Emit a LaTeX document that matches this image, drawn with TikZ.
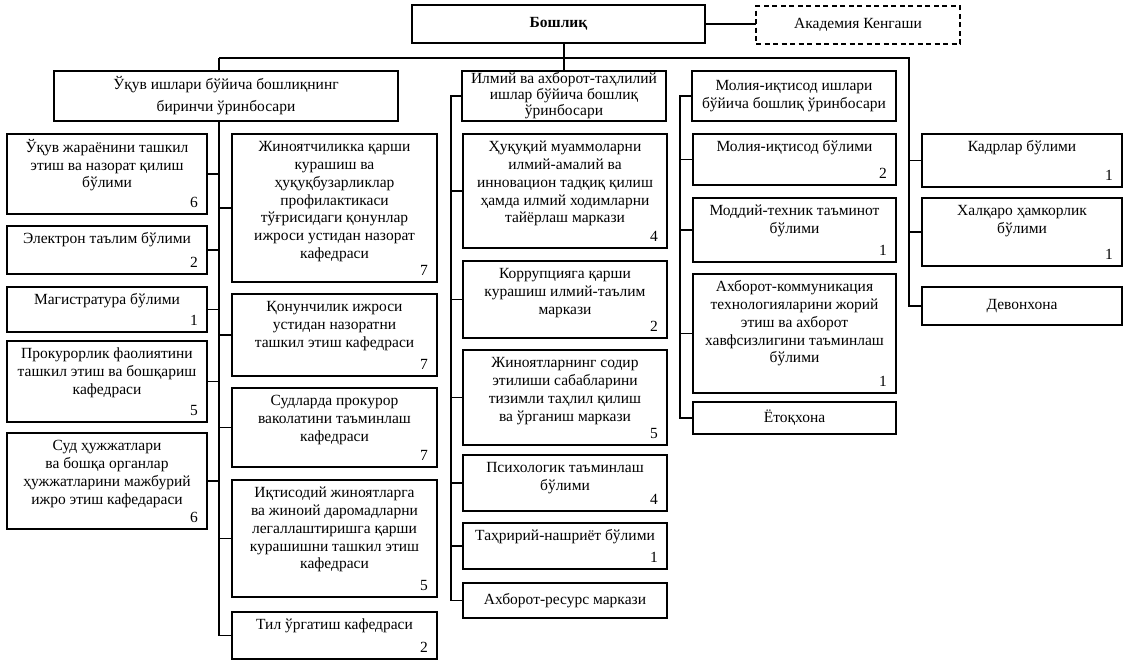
\documentclass[tikz,border=0pt]{standalone}
\usepackage{fontspec}
\setmainfont{Liberation Serif}
\tikzset{
  ubx/.style={draw, line width=1.3pt, inner sep=0pt, outer sep=0pt, align=center},
  utx/.style={inner sep=0pt, align=center},
  unm/.style={inner sep=0pt},
  conn/.style={line width=1.4pt},
}
% name, x1, y1, x2, y2, text, number
\newcommand\ubox[7]{%
  \node[ubx, minimum width={#4-#2}, minimum height={#5-#3}] (#1) at ({(#2+#4)/2},{(#3+#5)/2}) {};
  \node[utx, anchor=north] (#1-t) at ([yshift=-5pt]#1.north) {\strut #6};
  \node[unm, anchor=south east] (#1-n) at ([xshift=-9pt,yshift=6pt]#1.south east) {#7};
}
% [style], name, x1, y1, x2, y2, text
\newcommand\cboxt[7][]{%
  \node[ubx, minimum width={#5-#3}, minimum height={#6-#4}, #1] (#2) at ({(#3+#5)/2},{(#4+#6)/2}) {#7};
}
\begin{document}
\begin{tikzpicture}[x=1pt, y=-1pt, font=\fontsize{15.5}{17.8}\selectfont]
\useasboundingbox (0,0) rectangle (1129,664);

% top
\cboxt[font=\fontsize{15.5}{17.8}\selectfont\bfseries]{boss}{412}{5}{705}{43}{Бошлиқ}
\cboxt[dashed, dash pattern=on 5pt off 3.5pt]{akad}{756}{6}{960}{44}{Академия Кенгаши}
\draw[conn] (boss.east) -- (boss.east -| akad.west);

% deputies
\cboxt[font=\fontsize{15.5}{22}\selectfont]{dep1}{54}{71}{398}{121}{Ўқув ишлари бўйича бошлиқнинг\\биринчи ўринбосари}
\cboxt[font=\fontsize{15.5}{16}\selectfont]{ilm}{462}{71}{666}{121}{Илмий ва ахборот-таҳлилий\\ишлар бўйича бошлиқ\\ўринбосари}
\cboxt{mol}{692}{71}{896}{121}{Молия-иқтисод ишлари\\бўйича бошлиқ ўринбосари}

% left column
\ubox{a1}{7}{134}{207}{214}{Ўқув жараёнини ташкил\\этиш ва назорат қилиш\\бўлими}{6}
\ubox{a2}{7}{226}{207}{274}{Электрон таълим бўлими}{2}
\ubox{a3}{7}{287}{207}{332}{Магистратура бўлими}{1}
\ubox{a4}{7}{341}{207}{422}{Прокурорлик фаолиятини\\ташкил этиш ва бошқариш\\кафедраси}{5}
\ubox{a5}{7}{433}{207}{529}{Суд ҳужжатлари\\ва бошқа органлар\\ҳужжатларини мажбурий\\ижро этиш кафедараси}{6}

% left group, right column
\ubox{b1}{232}{134}{437}{282}{Жиноятчиликка қарши\\курашиш ва\\ҳуқуқбузарликлар\\профилактикаси\\тўғрисидаги қонунлар\\ижроси устидан назорат\\кафедраси}{7}
\ubox{b2}{232}{294}{437}{376}{Қонунчилик ижроси\\устидан назоратни\\ташкил этиш кафедраси}{7}
\ubox{b3}{232}{388}{437}{467}{Судларда прокурор\\ваколатини таъминлаш\\кафедраси}{7}
\ubox{b4}{232}{480}{437}{597}{Иқтисодий жиноятларга\\ва жиноий даромадларни\\легаллаштиришга қарши\\курашишни ташкил этиш\\кафедраси}{5}
\ubox{b5}{232}{612}{437}{659}{Тил ўргатиш кафедраси}{2}

% middle column
\ubox{c1}{463}{134}{667}{248}{Ҳуқуқий муаммоларни\\илмий-амалий ва\\инновацион тадқиқ қилиш\\ҳамда илмий ходимларни\\тайёрлаш маркази}{4}
\ubox{c2}{463}{261}{667}{338}{Коррупцияга қарши\\курашиш илмий-таълим\\маркази}{2}
\ubox{c3}{463}{350}{667}{445}{Жиноятларнинг содир\\этилиши сабабларини\\тизимли таҳлил қилиш\\ва ўрганиш маркази}{5}
\ubox{c4}{463}{455}{667}{511}{Психологик таъминлаш\\бўлими}{4}
\ubox{c5}{463}{523}{667}{569}{Таҳририй-нашриёт бўлими}{1}
\cboxt{c6}{463}{583}{667}{618}{Ахборот-ресурс маркази}

% right column
\ubox{d1}{693}{134}{896}{185}{Молия-иқтисод бўлими}{2}
\ubox{d2}{693}{198}{896}{262}{Моддий-техник таъминот\\бўлими}{1}
\ubox{d3}{693}{274}{896}{393}{Ахборот-коммуникация\\технологияларини жорий\\этиш ва ахборот\\хавфсизлигини таъминлаш\\бўлими}{1}
\cboxt{d4}{693}{402}{896}{434}{Ётоқхона}

% far right column
\ubox{e1}{922}{134}{1122}{187}{Кадрлар бўлими}{1}
\ubox{e2}{922}{198}{1122}{266}{Халқаро ҳамкорлик\\бўлими}{1}
\cboxt{e3}{922}{287}{1122}{325}{Девонхона}

% trunks
\coordinate (hl) at (219,58);
\coordinate (hr) at (909,58);
\coordinate (mt) at (451,0);
\coordinate (rt) at (680,0);
\draw[conn] (ilm.north) -- (ilm.north |- boss.south);
\draw[conn] (hl) -- (hr) |- (e3.west);
\draw[conn] (hl) -- (dep1.north -| hl);
\draw[conn] (dep1.south -| hl) -- (b5.west -| hl) -- (b5.west);
\draw[conn] (ilm.west) -| (mt |- c6.west) -- (c6.west);
\draw[conn] (mol.west) -| (rt |- d4.west) -- (d4.west);

% branches
\foreach \n in {a1,a2,a3,a4,a5} \draw[conn] (\n.east) -- (\n.east -| hl);
\foreach \n in {b1,b2,b3,b4} \draw[conn] (\n.west) -- (\n.west -| hl);
\foreach \n in {c1,c2,c3,c4,c5} \draw[conn] (\n.west) -- (\n.west -| mt);
\foreach \n in {d1,d2,d3} \draw[conn] (\n.west) -- (\n.west -| rt);
\foreach \n in {e1,e2} \draw[conn] (\n.west) -- (\n.west -| hr);
\end{tikzpicture}
\end{document}
